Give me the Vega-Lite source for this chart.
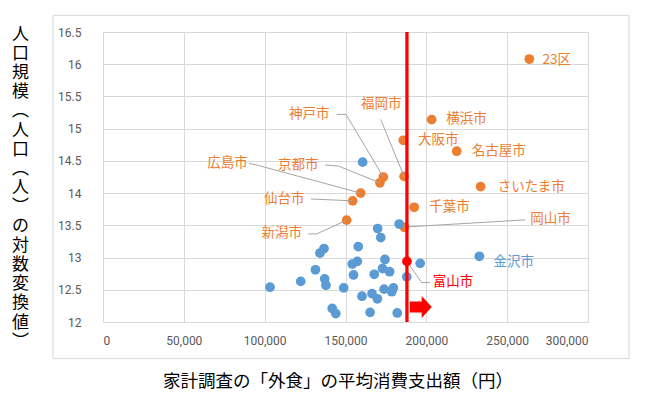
{
  "$schema": "https://vega.github.io/schema/vega-lite/v6.json",
  "width": 485,
  "height": 290,
  "autosize": {"type": "none"},
  "padding": {"left": 103, "top": 32, "right": 59, "bottom": 81},
  "background": "white",
  "data": {"values": [{}]},
  "resolve": {"axis": {"x": "independent", "y": "independent"}},
  "config": {
    "view": {"stroke": "#d9d9d9", "strokeWidth": 1},
    "axis": {
      "grid": true,
      "gridColor": "#d9d9d9",
      "gridWidth": 1,
      "domain": false,
      "ticks": false,
      "labelColor": "#595959",
      "labelFont": "Roboto",
      "labelFontSize": 12,
      "titleFont": "Noto Sans CJK JP",
      "titleFontWeight": "normal",
      "titleColor": "#000000"
    }
  },
  "datasets": {
    "points": [
      {"name": "23区", "type": "政令市", "x": 263700, "y": 16.08},
      {"name": "横浜市", "type": "政令市", "x": 203300, "y": 15.14},
      {"name": "大阪市", "type": "政令市", "x": 185750, "y": 14.82},
      {"name": "名古屋市", "type": "政令市", "x": 218800, "y": 14.65},
      {"name": "福岡市", "type": "政令市", "x": 186250, "y": 14.26},
      {"name": "神戸市", "type": "政令市", "x": 173400, "y": 14.25},
      {"name": "京都市", "type": "政令市", "x": 171300, "y": 14.16},
      {"name": "さいたま市", "type": "政令市", "x": 233600, "y": 14.10},
      {"name": "広島市", "type": "政令市", "x": 159400, "y": 14.00},
      {"name": "仙台市", "type": "政令市", "x": 154450, "y": 13.88},
      {"name": "千葉市", "type": "政令市", "x": 192500, "y": 13.78},
      {"name": "新潟市", "type": "政令市", "x": 150700, "y": 13.58},
      {"name": "岡山市", "type": "政令市", "x": 186400, "y": 13.47},
      {"name": "金沢市", "type": "その他", "x": 232800, "y": 13.02},
      {"name": "", "type": "その他", "x": 103300, "y": 12.54},
      {"name": "", "type": "その他", "x": 122300, "y": 12.63},
      {"name": "", "type": "その他", "x": 131400, "y": 12.81},
      {"name": "", "type": "その他", "x": 134200, "y": 13.07},
      {"name": "", "type": "その他", "x": 136700, "y": 13.14},
      {"name": "", "type": "その他", "x": 137100, "y": 12.67},
      {"name": "", "type": "その他", "x": 137900, "y": 12.57},
      {"name": "", "type": "その他", "x": 148900, "y": 12.53},
      {"name": "", "type": "その他", "x": 141800, "y": 12.21},
      {"name": "", "type": "その他", "x": 144000, "y": 12.13},
      {"name": "", "type": "その他", "x": 154200, "y": 12.90},
      {"name": "", "type": "その他", "x": 157300, "y": 12.94},
      {"name": "", "type": "その他", "x": 157900, "y": 13.17},
      {"name": "", "type": "その他", "x": 154950, "y": 12.73},
      {"name": "", "type": "その他", "x": 160200, "y": 12.40},
      {"name": "", "type": "その他", "x": 166400, "y": 12.44},
      {"name": "", "type": "その他", "x": 169700, "y": 12.36},
      {"name": "", "type": "その他", "x": 165200, "y": 12.15},
      {"name": "", "type": "その他", "x": 167800, "y": 12.74},
      {"name": "", "type": "その他", "x": 172900, "y": 12.83},
      {"name": "", "type": "その他", "x": 174400, "y": 12.97},
      {"name": "", "type": "その他", "x": 177300, "y": 12.78},
      {"name": "", "type": "その他", "x": 173900, "y": 12.51},
      {"name": "", "type": "その他", "x": 179600, "y": 12.53},
      {"name": "", "type": "その他", "x": 178600, "y": 12.47},
      {"name": "", "type": "その他", "x": 182000, "y": 12.14},
      {"name": "", "type": "その他", "x": 169900, "y": 13.45},
      {"name": "", "type": "その他", "x": 171800, "y": 13.31},
      {"name": "", "type": "その他", "x": 183200, "y": 13.52},
      {"name": "", "type": "その他", "x": 187900, "y": 12.70},
      {"name": "", "type": "その他", "x": 196200, "y": 12.91},
      {"name": "", "type": "その他", "x": 160600, "y": 14.48},
      {"name": "富山市", "type": "富山市", "x": 188000, "y": 12.94}
    ],
    "labels": [
      {"name": "23区", "type": "政令市", "lx": 280640, "ly": 16.07},
      {"name": "横浜市", "type": "政令市", "lx": 224850, "ly": 15.143},
      {"name": "大阪市", "type": "政令市", "lx": 207400, "ly": 14.823},
      {"name": "名古屋市", "type": "政令市", "lx": 244760, "ly": 14.653},
      {"name": "さいたま市", "type": "政令市", "lx": 264870, "ly": 14.10},
      {"name": "千葉市", "type": "政令市", "lx": 214330, "ly": 13.79},
      {"name": "岡山市", "type": "政令市", "lx": 276810, "ly": 13.595},
      {"name": "金沢市", "type": "その他", "lx": 254040, "ly": 12.938},
      {"name": "富山市", "type": "富山市", "lx": 216500, "ly": 12.613},
      {"name": "新潟市", "type": "政令市", "lx": 110540, "ly": 13.387},
      {"name": "仙台市", "type": "政令市", "lx": 112080, "ly": 13.909},
      {"name": "京都市", "type": "政令市", "lx": 120800, "ly": 14.436},
      {"name": "神戸市", "type": "政令市", "lx": 127550, "ly": 15.221},
      {"name": "福岡市", "type": "政令市", "lx": 172080, "ly": 15.376},
      {"name": "広島市", "type": "政令市", "lx": 77010, "ly": 14.462}
    ],
    "leaders": [
      {"name": "福岡市", "ord": 1, "x": 171780, "y": 15.143},
      {"name": "福岡市", "ord": 2, "x": 186250, "y": 14.258},
      {"name": "神戸市", "ord": 1, "x": 144560, "y": 15.221},
      {"name": "神戸市", "ord": 2, "x": 150310, "y": 15.221},
      {"name": "神戸市", "ord": 3, "x": 173400, "y": 14.25},
      {"name": "京都市", "ord": 1, "x": 137320, "y": 14.436},
      {"name": "京都市", "ord": 2, "x": 145550, "y": 14.42},
      {"name": "京都市", "ord": 3, "x": 171300, "y": 14.16},
      {"name": "広島市", "ord": 1, "x": 90310, "y": 14.462},
      {"name": "広島市", "ord": 2, "x": 95070, "y": 14.436},
      {"name": "広島市", "ord": 3, "x": 159400, "y": 14.00},
      {"name": "仙台市", "ord": 1, "x": 128660, "y": 13.909},
      {"name": "仙台市", "ord": 2, "x": 154450, "y": 13.88},
      {"name": "新潟市", "ord": 1, "x": 126990, "y": 13.367},
      {"name": "新潟市", "ord": 2, "x": 132190, "y": 13.367},
      {"name": "新潟市", "ord": 3, "x": 150700, "y": 13.58},
      {"name": "岡山市", "ord": 1, "x": 261030, "y": 13.584},
      {"name": "岡山市", "ord": 2, "x": 186400, "y": 13.473},
      {"name": "富山市", "ord": 1, "x": 188000, "y": 12.94},
      {"name": "富山市", "ord": 2, "x": 197130, "y": 12.613},
      {"name": "富山市", "ord": 3, "x": 202270, "y": 12.613}
    ]
  },
  "layer": [
    {
      "data": {"name": "points"},
      "transform": [{"filter": "datum.type !== '富山市'"}],
      "mark": {"type": "circle", "size": 95, "opacity": 1},
      "encoding": {
        "x": {
          "field": "x", "type": "quantitative",
          "scale": {"domain": [0, 300000], "nice": false, "zero": false},
          "axis": {
            "values": [0, 50000, 100000, 150000, 200000, 250000, 300000],
            "format": ",.0f",
            "labelPadding": 13,
            "title": "家計調査の「外食」の平均消費支出額（円）",
            "titleFontSize": 17.5,
            "titleX": 234.5,
            "titleY": 59,
            "titleBaseline": "middle",
            "titleAlign": "center"
          }
        },
        "y": {
          "field": "y", "type": "quantitative",
          "scale": {"domain": [12, 16.5], "nice": false, "zero": false},
          "axis": {
            "values": [12, 12.5, 13, 13.5, 14, 14.5, 15, 15.5, 16, 16.5],
            "format": ".1~f",
            "labelPadding": 22,
            "title": ["人", "口", "規", "模", "︵", "人", "口", "︵", "人", "︶", "の", "対", "数", "変", "換", "値", "︶"],
            "titleFontSize": 17,
            "titleLineHeight": 19.2,
            "titleAngle": 0,
            "titleX": -83,
            "titleY": 2,
            "titleAlign": "center",
            "titleBaseline": "middle"
          }
        },
        "color": {
          "field": "type", "type": "nominal",
          "scale": {"domain": ["その他", "政令市", "富山市"], "range": ["#5B9BD5", "#ED7D31", "#FF0000"]},
          "legend": null
        }
      }
    },
    {
      "mark": {"type": "rect", "fill": "white", "fillOpacity": 0, "stroke": "#d9d9d9", "strokeWidth": 1},
      "encoding": {
        "x": {"datum": -30930, "type": "quantitative", "axis": null},
        "x2": {"datum": 325360},
        "y": {"datum": 11.432, "type": "quantitative", "axis": null},
        "y2": {"datum": 16.758}
      }
    },
    {
      "data": {"name": "leaders"},
      "mark": {"type": "line", "color": "#a5a5a5", "strokeWidth": 1},
      "encoding": {
        "x": {"field": "x", "type": "quantitative", "axis": null},
        "y": {"field": "y", "type": "quantitative", "axis": null},
        "detail": {"field": "name"},
        "order": {"field": "ord"}
      }
    },
    {
      "mark": {"type": "rule", "color": "#FF0000", "strokeWidth": 3.3},
      "encoding": {
        "x": {"datum": 188000, "type": "quantitative", "axis": null}
      }
    },
    {
      "data": {"name": "points"},
      "transform": [{"filter": "datum.type === '富山市'"}],
      "mark": {"type": "circle", "size": 95, "opacity": 1, "color": "#FF0000"},
      "encoding": {
        "x": {"field": "x", "type": "quantitative", "axis": null},
        "y": {"field": "y", "type": "quantitative", "axis": null}
      }
    },
    {
      "mark": {
        "type": "point",
        "shape": "M-1,-0.5L0.08,-0.5L0.08,-1L1,0L0.08,1L0.08,0.5L-1,0.5Z",
        "filled": true,
        "color": "#FF0000",
        "opacity": 1,
        "size": 484
      },
      "encoding": {
        "x": {"datum": 196580, "type": "quantitative", "axis": null},
        "y": {"datum": 12.234, "type": "quantitative", "axis": null}
      }
    },
    {
      "data": {"name": "labels"},
      "mark": {"type": "text", "font": "Noto Sans CJK JP", "fontSize": 13.5, "align": "center", "baseline": "middle"},
      "encoding": {
        "x": {"field": "lx", "type": "quantitative", "axis": null},
        "y": {"field": "ly", "type": "quantitative", "axis": null},
        "text": {"field": "name"},
        "color": {"field": "type", "type": "nominal", "legend": null}
      }
    }
  ]
}
